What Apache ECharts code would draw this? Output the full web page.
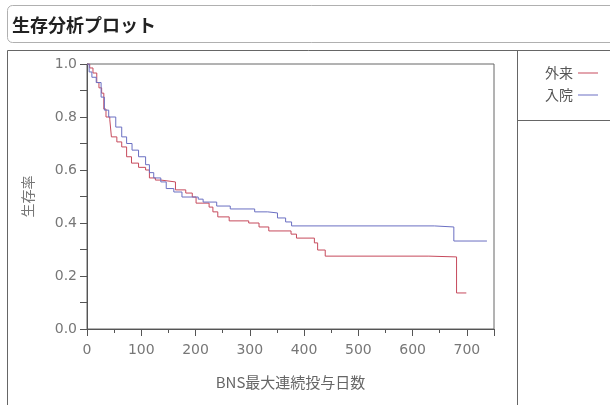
<!DOCTYPE html>
<html>
<head>
<meta charset="utf-8">
<script src="https://cdn.jsdelivr.net/npm/echarts@6/dist/echarts.min.js"></script>
<style>html,body{margin:0;padding:0;background:#fff;}#c{width:610px;height:405px;}</style>
</head>
<body>
<div id="c"></div>
<script>
const titleText = '生存分析プロット';
const seriesNames = ['外来', '入院'];
const xTicks = [0, 100, 200, 300, 400, 500, 600, 700];
const yTicks = [0.0, 0.2, 0.4, 0.6, 0.8, 1.0];
// 外来 (outpatient) Kaplan-Meier steps
const gairaiTime = [0, 5, 11, 18, 22, 27, 31, 35, 42, 45, 55, 64, 73, 82, 95, 108, 115, 126, 136, 163, 182, 194, 201, 225, 232, 241, 262, 298, 317, 335, 376, 386, 419, 425, 439, 630, 681, 699];
const gairaiSurv = [1.0, 0.985, 0.966, 0.93, 0.91, 0.89, 0.83, 0.80, 0.79, 0.725, 0.706, 0.687, 0.65, 0.626, 0.61, 0.60, 0.57, 0.562, 0.555, 0.525, 0.513, 0.498, 0.475, 0.46, 0.442, 0.423, 0.408, 0.40, 0.385, 0.37, 0.358, 0.343, 0.325, 0.298, 0.275, 0.272, 0.136, 0.136];
// 入院 (inpatient) Kaplan-Meier steps
const nyuinTime = [0, 4, 9, 17, 26, 32, 40, 53, 64, 73, 83, 95, 108, 115, 123, 136, 146, 160, 175, 205, 214, 239, 264, 309, 333, 351, 366, 377, 640, 676, 737];
const nyuinSurv = [1.0, 0.97, 0.95, 0.93, 0.875, 0.826, 0.80, 0.762, 0.725, 0.70, 0.675, 0.65, 0.62, 0.59, 0.57, 0.555, 0.53, 0.517, 0.498, 0.49, 0.479, 0.464, 0.453, 0.442, 0.438, 0.419, 0.404, 0.389, 0.385, 0.332, 0.332];

const FONT = '"Noto Sans CJK JP", "Noto Sans", sans-serif';
const NUMFONT = '"DejaVu Sans", sans-serif';
const RED = '#c64a5c';
const BLUE = '#6a6fc2';

const chart = echarts.init(document.getElementById('c'), null, {renderer: 'canvas'});
chart.setOption({
  animation: false,
  backgroundColor: '#fff',
  textStyle: {fontFamily: FONT},
  graphic: [
    {type: 'rect', shape: {x: 7.5, y: 5.5, width: 640, height: 37, r: 5}, style: {fill: '#fff', stroke: '#b0b0b0', lineWidth: 1}, z: 0},
    {type: 'text', left: 12, top: 16, style: {text: titleText, font: 'bold 18px ' + FONT, fill: '#222'}, z: 1},
    {type: 'line', shape: {x1: 7.5, y1: 50.5, x2: 610, y2: 50.5}, style: {stroke: '#666', lineWidth: 1}},
    {type: 'line', shape: {x1: 7.5, y1: 50.5, x2: 7.5, y2: 405}, style: {stroke: '#666', lineWidth: 1}},
    {type: 'line', shape: {x1: 517.5, y1: 50.5, x2: 517.5, y2: 405}, style: {stroke: '#666', lineWidth: 1}},
    {type: 'line', shape: {x1: 517.5, y1: 120.5, x2: 610, y2: 120.5}, style: {stroke: '#666', lineWidth: 1}}
  ],
  legend: {
    orient: 'vertical',
    left: 540,
    top: 61,
    align: 'right',
    itemWidth: 20,
    itemHeight: 1,
    itemGap: 8,
    textStyle: {fontFamily: FONT, fontSize: 14, color: '#555'},
    data: [{name: seriesNames[0], icon: 'rect'}, {name: seriesNames[1], icon: 'rect'}]
  },
  grid: {left: 87, top: 64, width: 407, height: 265, show: true, borderColor: '#666', borderWidth: 1, backgroundColor: '#fff'},
  xAxis: {
    type: 'value', min: 0, max: 750, interval: 100,
    name: 'BNS最大連続投与日数', nameLocation: 'middle', nameGap: 46,
    nameTextStyle: {fontFamily: FONT, fontSize: 15, color: '#666'},
    axisLine: {lineStyle: {color: '#555'}},
    axisTick: {show: true, length: 7, lineStyle: {color: '#555'}},
    minorTick: {show: true, splitNumber: 2, length: 4, lineStyle: {color: '#555'}},
    axisLabel: {fontFamily: NUMFONT, fontSize: 14, color: '#777', margin: 14, showMaxLabel: false,
      formatter: v => (xTicks.indexOf(v) >= 0 ? String(v) : '')},
    splitLine: {show: false}
  },
  yAxis: {
    type: 'value', min: 0, max: 1, interval: 0.2,
    name: '生存率', nameLocation: 'middle', nameGap: 52,
    nameTextStyle: {fontFamily: FONT, fontSize: 14, color: '#777'},
    axisLine: {show: true, lineStyle: {color: '#555'}},
    axisTick: {show: true, length: 7, lineStyle: {color: '#555'}},
    minorTick: {show: true, splitNumber: 2, length: 7, lineStyle: {color: '#555'}},
    axisLabel: {fontFamily: NUMFONT, fontSize: 14, color: '#777', margin: 10, formatter: v => v.toFixed(1)},
    splitLine: {show: false}
  },
  series: [
    {name: seriesNames[0], type: 'line', step: 'end', showSymbol: false, symbol: 'none',
      lineStyle: {color: RED, width: 1}, itemStyle: {color: RED},
      data: gairaiTime.map((t, i) => [t, gairaiSurv[i]])},
    {name: seriesNames[1], type: 'line', step: 'end', showSymbol: false, symbol: 'none',
      lineStyle: {color: BLUE, width: 1}, itemStyle: {color: BLUE},
      data: nyuinTime.map((t, i) => [t, nyuinSurv[i]])}
  ]
});
</script>
</body>
</html>
